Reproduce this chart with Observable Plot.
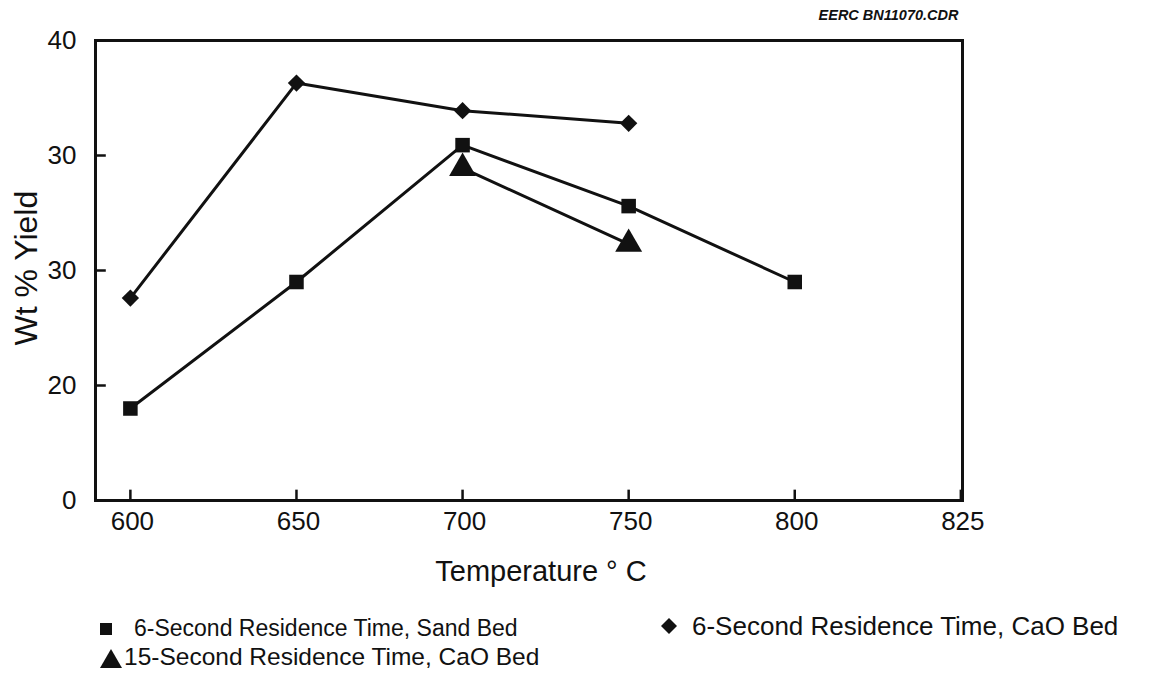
<!DOCTYPE html>
<html>
<head>
<meta charset="utf-8">
<script src="https://cdn.jsdelivr.net/npm/d3@7"></script>
<script src="https://cdn.jsdelivr.net/npm/@observablehq/plot@0.6"></script>
<style>
  body { margin: 0; background: #fff; font-family: "Liberation Sans", Arial, sans-serif; }
  #wrap { position: relative; width: 1150px; height: 684px; overflow: hidden; }
  .leg { position: absolute; font-size: 23px; color: #111; white-space: nowrap; display: flex; align-items: center; }
  .leg svg { display: block; }
</style>
</head>
<body>
<div id="wrap">
  <div id="chart"></div>
  <div class="leg" style="left:98px; top:614px;"><svg width="36" height="28"><rect x="2" y="9" width="12" height="12" fill="#111"/></svg><span>6-Second Residence Time, Sand Bed</span></div>
  <div class="leg" style="left:98px; top:643px; font-size:24.5px;"><svg width="26" height="28"><path d="M2,25 L13,6 L24,25 Z" fill="#111"/></svg><span>15-Second Residence Time, CaO Bed</span></div>
  <div class="leg" style="left:660px; top:611px; font-size:26px;"><svg width="32" height="28"><path d="M9,5 L17,13 L9,21 L1,13 Z" fill="#111"/></svg><span>6-Second Residence Time, CaO Bed</span></div>
</div>
<script>
// ---- data ----
const tickTemps = ["600", "650", "700", "750", "800", "825"];
const sandTemps = [600, 650, 700, 750, 800];
const sandYield = [8.0, 19.0, 30.9, 25.6, 19.0];
const caoTemps = [600, 650, 700, 750];
const caoYield = [17.6, 36.3, 33.9, 32.8];
const cao15Temps = [700, 750];
const cao15Yield = [28.9, 22.3];
const yTicks = [0, 10, 20, 30, 40];
const yTickLabels = ["0", "20", "30", "30", "40"];
const caption = "EERC BN11070.CDR";

const idx = t => tickTemps.indexOf(String(t));
const sand = sandTemps.map((t, i) => ({x: idx(t), y: sandYield[i]}));
const cao = caoTemps.map((t, i) => ({x: idx(t), y: caoYield[i]}));
const cao15 = cao15Temps.map((t, i) => ({x: idx(t), y: cao15Yield[i]}));
const xIdx = tickTemps.map((t, i) => i);
const xMin = -0.21, xMax = 5.01;

const font = '"Liberation Sans", Arial, sans-serif';
const ink = "#111";

const xTickSegs = xIdx.map(i => ({x: i, y1: 0, y2: 0.9}));
const yTickSegs = yTicks.map(v => ({y: v, x1: xMin, x2: xMin + 0.065}));

const chart = Plot.plot({
  width: 1150,
  height: 590,
  marginLeft: 95,
  marginRight: 188,
  marginTop: 40,
  marginBottom: 90,
  style: {fontFamily: font, color: ink, background: "#fff"},
  x: {type: "linear", domain: [xMin, xMax]},
  y: {domain: [0, 40]},
  marks: [
    Plot.frame({stroke: ink, strokeWidth: 3}),
    // inward ticks
    Plot.ruleX(xTickSegs, {x: "x", y1: "y1", y2: "y2", stroke: ink, strokeWidth: 2.5}),
    Plot.ruleY(yTickSegs, {y: "y", x1: "x1", x2: "x2", stroke: ink, strokeWidth: 2.5}),
    Plot.axisX(xIdx, {tickSize: 0, tickPadding: 11, fontSize: 26, tickFormat: i => tickTemps[i], label: null, dx: 2}),
    Plot.axisY(yTicks, {tickSize: 0, tickPadding: 19, fontSize: 26, tickFormat: d => yTickLabels[yTicks.indexOf(d)], label: null}),
    // series lines
    Plot.line(cao, {x: "x", y: "y", stroke: ink, strokeWidth: 3}),
    Plot.line(sand, {x: "x", y: "y", stroke: ink, strokeWidth: 3}),
    Plot.line(cao15, {x: "x", y: "y", stroke: ink, strokeWidth: 3}),
    // markers
    Plot.dot(cao, {x: "x", y: "y", symbol: "diamond2", r: 7.8, fill: ink, stroke: "none"}),
    Plot.dot(sand, {x: "x", y: "y", symbol: "square", r: 8.2, fill: ink, stroke: "none"}),
    Plot.dot(cao15, {x: "x", y: "y", symbol: "triangle", r: 10, fill: ink, stroke: "none"}),
    // titles
    Plot.text(["Temperature ° C"], {frameAnchor: "bottom", dy: 80, dx: 12, fontSize: 29, fill: ink}),
    Plot.text(["Wt % Yield"], {frameAnchor: "left", dx: -69, dy: 75, rotate: -90, fontSize: 32, fill: ink}),
    Plot.text([caption], {frameAnchor: "top-right", dy: -31, dx: -4, textAnchor: "end", fontSize: 14.5, fontWeight: "bold", fontStyle: "italic", fill: ink})
  ]
});
document.getElementById("chart").appendChild(chart);
</script>
</body>
</html>
